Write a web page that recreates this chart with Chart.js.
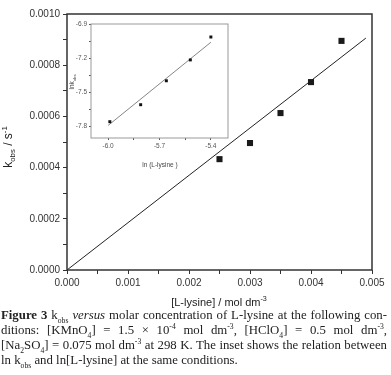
<!DOCTYPE html>
<html>
<head>
<meta charset="utf-8">
<script src="https://cdn.jsdelivr.net/npm/chart.js@4/dist/chart.umd.min.js"></script>
<style>
  body { margin: 0; background: #fff; }
  #page { position: relative; width: 391px; height: 375px; overflow: hidden; font-family: "Liberation Sans", Arial, sans-serif; color: #222; }
  canvas { position: absolute; }
  #main { left: 0; top: 0; }
  #inset { left: 60px; top: 16px; }
  .lbl { position: absolute; white-space: nowrap; transform: translate(-50%, -50%); line-height: 1; }
  .rot { transform: translate(-50%, -50%) rotate(-90deg); }
  .lbl sub, .lbl sup { font-size: 0.65em; line-height: 0; }
  #xTitle { left: 219px; top: 302px; font-size: 11px; }
  #yTitle { left: 8px; top: 147px; font-size: 12px; }
  #inXTitle { left: 160px; top: 165px; font-size: 6.5px; color: #444; }
  #inYTitle { left: 72px; top: 82px; font-size: 6.5px; color: #444; }
  #caption { position: absolute; left: 1px; top: 308px; width: 386px; font-family: "Liberation Serif", "Times New Roman", serif; font-size: 12.8px; line-height: 15px; color: #222; }
  #caption div { text-align: justify; text-align-last: justify; white-space: nowrap; }
  #caption div.last { text-align-last: left; }
  #caption sub, #caption sup { font-size: 0.6em; line-height: 0; }
</style>
</head>
<body>
<div id="page">
  <canvas id="main" width="391" height="308"></canvas>
  <canvas id="inset" width="174" height="140"></canvas>
  <div class="lbl" id="xTitle">[L-lysine] / mol dm<sup>-3</sup></div>
  <div class="lbl rot" id="yTitle">k<sub>obs</sub> / s<sup>-1</sup></div>
  <div class="lbl" id="inXTitle">ln (L-lysine )</div>
  <div class="lbl rot" id="inYTitle">lnk<sub>obs</sub></div>
  <div id="caption">
    <div><b>Figure 3</b> k<sub>obs</sub> <i>versus</i> molar concentration of L-lysine at the following con-</div>
    <div>ditions: [KMnO<sub>4</sub>] = 1.5 × 10<sup>-4</sup> mol dm<sup>-3</sup>, [HClO<sub>4</sub>] = 0.5 mol dm<sup>-3</sup>,</div>
    <div>[Na<sub>2</sub>SO<sub>4</sub>] = 0.075 mol dm<sup>-3</sup> at 298 K. The inset shows the relation between</div>
    <div class="last">ln k<sub>obs</sub> and ln[L-lysine] at the same conditions.</div>
  </div>
</div>
<script>
// main plot: k_obs against [L-lysine]
const conc = [0.0025, 0.0030, 0.0035, 0.0040, 0.0045];
const kobs = [0.000433, 0.000496, 0.000613, 0.000734, 0.000895];
const fitConc = [0, 0.0049];
const fitK = [0, 0.000906];

// inset: ln k_obs against ln[L-lysine]
const lnConc = [-5.99, -5.81, -5.66, -5.52, -5.40];
const lnK = [-7.757, -7.608, -7.398, -7.215, -7.014];
const lnFitConc = [-6.0, -5.4];
const lnFitK = [-7.79, -7.06];

// tick positions (every other one gets a label)
const mainXTicks = [0, 0.0005, 0.001, 0.0015, 0.002, 0.0025, 0.003, 0.0035, 0.004, 0.0045, 0.005];
const mainYTicks = [0, 0.0001, 0.0002, 0.0003, 0.0004, 0.0005, 0.0006, 0.0007, 0.0008, 0.0009, 0.001];
const insetXTicks = [-6.0, -5.85, -5.7, -5.55, -5.4];
const insetYTicks = [-7.8, -7.65, -7.5, -7.35, -7.2, -7.05, -6.9];

const toPoints = (xs, ys) => xs.map((x, i) => ({ x: x, y: ys[i] }));

// draws the box round the plot area
const framePlugin = {
  id: 'frame',
  afterDraw(chart, args, opts) {
    const { ctx, chartArea: a } = chart;
    ctx.save();
    ctx.strokeStyle = opts.color;
    ctx.lineWidth = opts.width;
    ctx.strokeRect(a.left, a.top, a.right - a.left, a.bottom - a.top);
    ctx.restore();
  }
};

const axis = (ticksArr, digits, fontSize, color, tickLen, fit) => ({
  type: 'linear',
  afterBuildTicks: (scale) => { scale.ticks = ticksArr.map((v) => ({ value: v })); },
  afterFit: fit,
  border: { display: false },
  grid: { drawOnChartArea: false, drawTicks: true, tickLength: tickLen, color: color, lineWidth: 1 },
  ticks: {
    autoSkip: false,
    maxRotation: 0,
    padding: 3,
    color: color,
    font: { family: '"Liberation Sans", Arial, sans-serif', size: fontSize },
    callback: (v, i) => (i % 2 === 0 ? Number(v).toFixed(digits) : '')
  }
});

const mainX = axis(mainXTicks, 3, 10, '#333', 4, (s) => { s.height = 38; });
mainX.min = 0; mainX.max = 0.005;
const mainY = axis(mainYTicks, 4, 10, '#333', 4, (s) => { s.width = 67; });
mainY.min = 0; mainY.max = 0.001;

new Chart(document.getElementById('main'), {
  type: 'scatter',
  data: {
    datasets: [
      {
        data: toPoints(conc, kobs),
        pointStyle: 'rect',
        pointRadius: 4.3,
        backgroundColor: '#1a1a1a',
        borderWidth: 0
      },
      {
        data: toPoints(fitConc, fitK),
        showLine: true,
        pointRadius: 0,
        borderColor: '#222',
        borderWidth: 1
      }
    ]
  },
  options: {
    responsive: false,
    animation: false,
    layout: { padding: { top: 14, right: 19, left: 0, bottom: 0 } },
    plugins: { legend: { display: false }, tooltip: { enabled: false }, frame: { color: '#333', width: 1.5 } },
    scales: { x: mainX, y: mainY }
  },
  plugins: [framePlugin]
});

const inX = axis(insetXTicks, 1, 6.5, '#555', 2, (s) => { s.height = 18; });
inX.min = -6.1; inX.max = -5.3;
const inY = axis(insetYTicks, 1, 6.5, '#555', 2, (s) => { s.width = 31; });
inY.min = -7.9; inY.max = -6.9;
inX.ticks.padding = 2;
inY.ticks.padding = 2;

new Chart(document.getElementById('inset'), {
  type: 'scatter',
  data: {
    datasets: [
      {
        data: toPoints(lnConc, lnK),
        pointStyle: 'rect',
        pointRadius: 2.1,
        backgroundColor: '#111',
        borderWidth: 0
      },
      {
        data: toPoints(lnFitConc, lnFitK),
        showLine: true,
        pointRadius: 0,
        borderColor: '#666',
        borderWidth: 0.8
      }
    ]
  },
  options: {
    responsive: false,
    animation: false,
    layout: { padding: { top: 8, right: 6, left: 0, bottom: 0 } },
    plugins: { legend: { display: false }, tooltip: { enabled: false }, frame: { color: '#999', width: 1 } },
    scales: { x: inX, y: inY }
  },
  plugins: [framePlugin]
});
</script>
</body>
</html>
